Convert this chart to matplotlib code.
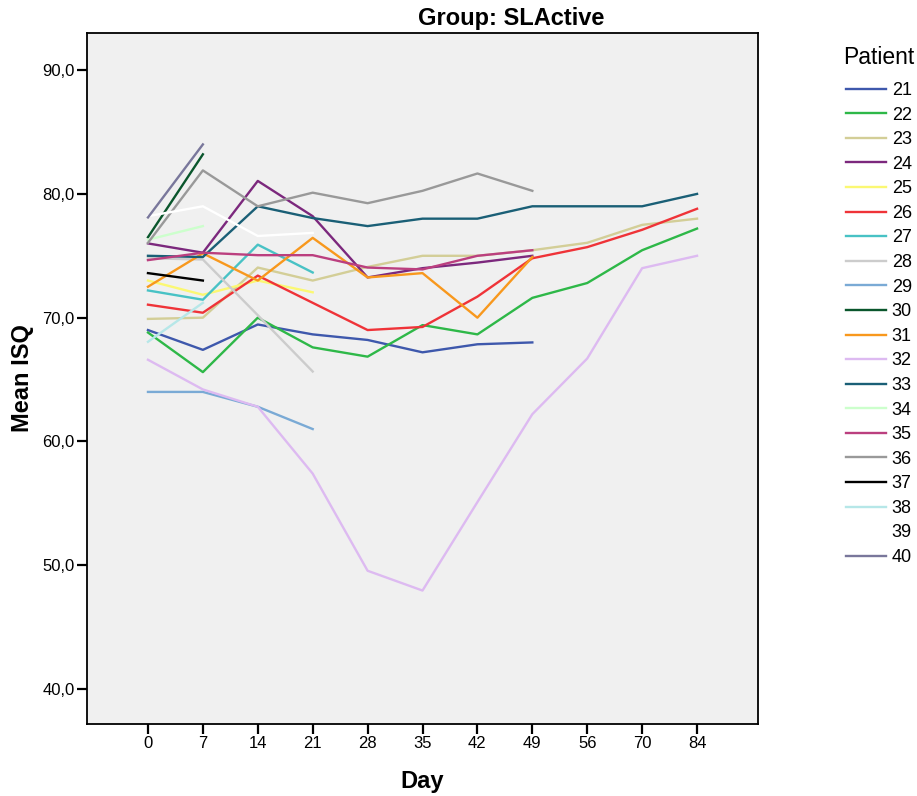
import matplotlib
import numpy as np

matplotlib.use("Agg")
import matplotlib.pyplot as plt  # noqa: E402

days = ["0", "7", "14", "21", "28", "35", "42", "49", "56", "70", "84"]
patients = ["21", "22", "23", "24", "25", "26", "27", "28", "29", "30",
            "31", "32", "33", "34", "35", "36", "37", "38", "39", "40"]

# mean ISQ per patient, one value per visit (starting at day 0)
p21 = [69.0, 67.4, 69.45, 68.65, 68.2, 67.2, 67.85, 68.0]
p22 = [68.8, 65.6, 70.0, 67.6, 66.85, 69.4, 68.65, 71.6, 72.8, 75.45, 77.2]
p23 = [69.9, 70.0, 74.05, 73.0, 74.1, 75.0, 75.0, 75.45, 76.05, 77.5, 78.0]
p24 = [76.0, 75.25, 81.05, 78.2, 73.25, 74.0, 74.45, 75.0]
p25 = [73.0, 71.85, 73.0, 72.05]
p26 = [71.05, 70.4, 73.4, 71.2, 69.0, 69.25, 71.7, 74.8, 75.7, 77.1, 78.8]
p27 = [72.2, 71.45, 75.9, 73.65]
p28 = [74.8, 74.7, 70.2, 65.65]
p29 = [64.0, 64.0, 62.8, 61.0]
p30 = [76.5, 83.2]
p31 = [72.5, 75.2, 73.0, 76.45, 73.25, 73.6, 70.0, 74.9]
p32 = [66.6, 64.2, 62.8, 57.4, 49.55, 47.95, 55.1, 62.2, 66.7, 74.0, 75.0]
p33 = [75.0, 74.9, 79.0, 78.05, 77.4, 78.0, 78.0, 79.0, 79.0, 79.0, 80.0]
p34 = [76.3, 77.4]
p35 = [74.65, 75.25, 75.05, 75.05, 74.05, 73.9, 75.0, 75.45]
p36 = [76.05, 81.9, 79.0, 80.1, 79.25, 80.25, 81.65, 80.25]
p37 = [73.6, 73.0]
p38 = [68.05, 71.2]
p39 = [78.2, 79.0, 76.6, 76.85]
p40 = [78.1, 84.0]

series = [p21, p22, p23, p24, p25, p26, p27, p28, p29, p30,
          p31, p32, p33, p34, p35, p36, p37, p38, p39, p40]

colors = ["#3E58AC", "#2EB848", "#D3CE97", "#7C287D", "#FBF873",
          "#EF3338", "#48C2C5", "#CCCCCC", "#7AAAD5", "#0A562C",
          "#F8981D", "#DDBAF1", "#1A5F76", "#CCFFCC", "#BB3F7F",
          "#999999", "#000000", "#B6E7E8", "#FFFFFF", "#79779B"]

plt.rcParams["font.family"] = ["Liberation Sans", "DejaVu Sans"]

fig = plt.figure(figsize=(9.17, 7.96), dpi=100)
ax = fig.add_axes([0.0949, 0.0905, 0.7317, 0.868])
ax.set_facecolor("#F0F0F0")

for name, vals, col in zip(patients, series, colors):
    ax.plot(np.arange(len(vals)), vals, color=col, lw=1.7, label=name)

ax.set_xlim(-1.11, 11.11)
ax.set_ylim(37.17, 93.0)
ax.set_xticks(np.arange(len(days)))
ax.set_xticklabels(days)
yt = [40, 50, 60, 70, 80, 90]
ax.set_yticks(yt)
ax.set_yticklabels([f"{v:.1f}".replace(".", ",") for v in yt])
ax.tick_params(direction="out", length=7, width=1.6, labelsize=12, pad=2)
for s in ax.spines.values():
    s.set_linewidth(1.3)

ax.set_xlabel("Day", fontsize=17, fontweight="bold", labelpad=13)
ax.set_ylabel("Mean ISQ", fontsize=17, fontweight="bold", labelpad=6)
fig.text(0.558, 0.977, "Group: SLActive", fontsize=17, fontweight="bold",
         ha="center", va="center")

# legend title drawn separately so it can sit left of the handles
fig.text(843 / 917, 1 - 58 / 796, "Patient", fontsize=16.5,
         ha="left", va="center")
leg = fig.legend(loc="upper left", bbox_to_anchor=(846 / 917, 1 - 82 / 796),
                 frameon=False, fontsize=13, handlelength=2.2,
                 handletextpad=0.33, labelspacing=0.42, borderaxespad=0,
                 borderpad=0)

fig.savefig("out.png", dpi=100)
plt.close(fig)
